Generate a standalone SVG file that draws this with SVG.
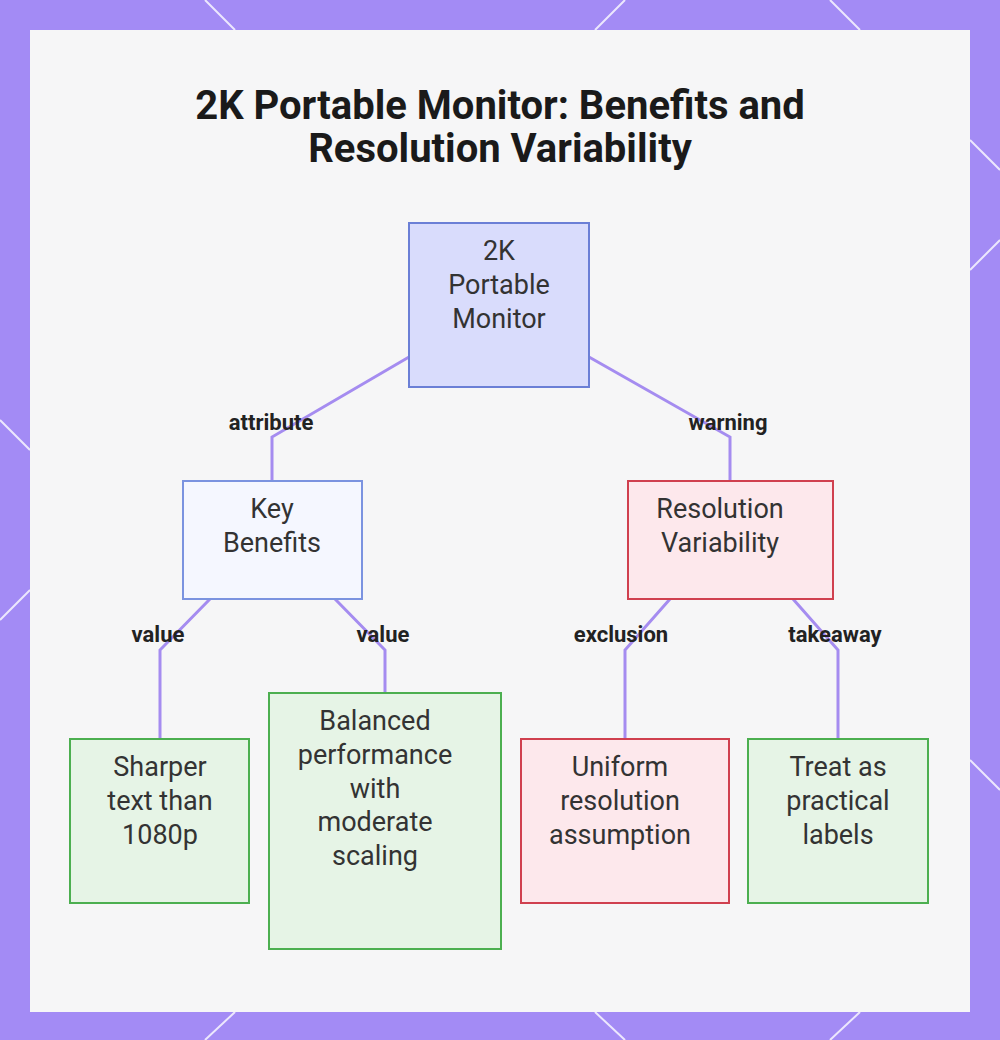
<svg xmlns="http://www.w3.org/2000/svg" width="1000" height="1040" viewBox="0 0 1000 1040">
<style>
.t{font-family:Roboto,"Liberation Sans",sans-serif;font-size:27px;fill:#333;text-anchor:middle}
.l{font-family:Roboto,"Liberation Sans",sans-serif;font-size:22px;font-weight:bold;fill:#222;text-anchor:middle}
.h{font-family:Roboto,"Liberation Sans",sans-serif;font-size:40px;font-weight:bold;fill:#1a1a1a;text-anchor:middle}
.e{fill:none;stroke:#a58cf0;stroke-width:3}
.dl{stroke:#ffffff;stroke-width:2;opacity:0.8}
</style>
<rect width="1000" height="1040" fill="#a38bf5"/>
<g class="dl"><line x1="205" y1="0" x2="235" y2="30"/><line x1="595" y1="30" x2="625" y2="0"/><line x1="830" y1="0" x2="860" y2="30"/><line x1="970" y1="140" x2="1000" y2="170"/><line x1="970" y1="270" x2="1000" y2="240"/><line x1="0" y1="420" x2="30" y2="450"/><line x1="0" y1="620" x2="30" y2="590"/><line x1="970" y1="760" x2="1000" y2="790"/><line x1="205" y1="1040" x2="235" y2="1012"/><line x1="595" y1="1012" x2="625" y2="1040"/><line x1="830" y1="1040" x2="860" y2="1012"/></g>
<rect x="30" y="30" width="940" height="982" fill="#f6f6f7"/>
<text class="h" x="500" y="119">2K Portable Monitor: Benefits and</text>
<text class="h" x="500" y="162">Resolution Variability</text>
<g id="connectors">
<polyline class="e" points="409,357 272,437 272,481"/>
<polyline class="e" points="589,357 730,437 730,481"/>
<polyline class="e" points="210,599 160,650 160,739"/>
<polyline class="e" points="335,599 385,650 385,693"/>
<polyline class="e" points="670,599 625,650 625,739"/>
<polyline class="e" points="793,599 838,650 838,739"/>
<text class="l" x="271" y="430">attribute</text>
<text class="l" x="728" y="430">warning</text>
<text class="l" x="158" y="642">value</text>
<text class="l" x="383" y="642">value</text>
<text class="l" x="621" y="642">exclusion</text>
<text class="l" x="835" y="642">takeaway</text>
</g>
<g id="root"><rect x="409" y="223" width="180" height="164" fill="#d9dcfc" stroke="#6b7fd6" stroke-width="2"/>
<text class="t" x="499" y="260">2K</text><text class="t" x="499" y="294">Portable</text><text class="t" x="499" y="328">Monitor</text></g>
<g id="benefits"><rect x="183" y="481" width="179" height="118" fill="#f5f7ff" stroke="#7b93e0" stroke-width="2"/>
<text class="t" x="272" y="518">Key</text><text class="t" x="272" y="552">Benefits</text></g>
<g id="variability"><rect x="628" y="481" width="205" height="118" fill="#fde8ec" stroke="#d0404f" stroke-width="2"/>
<text class="t" x="720" y="518">Resolution</text><text class="t" x="720" y="552">Variability</text></g>
<g id="sharper"><rect x="70" y="739" width="179" height="164" fill="#e6f4e6" stroke="#4caf50" stroke-width="2"/>
<text class="t" x="160" y="776">Sharper</text><text class="t" x="160" y="810">text than</text><text class="t" x="160" y="844">1080p</text></g>
<g id="balanced"><rect x="269" y="693" width="232" height="256" fill="#e6f4e6" stroke="#4caf50" stroke-width="2"/>
<text class="t" x="375" y="730">Balanced</text><text class="t" x="375" y="764">performance</text><text class="t" x="375" y="798">with</text><text class="t" x="375" y="831">moderate</text><text class="t" x="375" y="865">scaling</text></g>
<g id="uniform"><rect x="521" y="739" width="208" height="164" fill="#fde8ec" stroke="#d0404f" stroke-width="2"/>
<text class="t" x="620" y="776">Uniform</text><text class="t" x="620" y="810">resolution</text><text class="t" x="620" y="844">assumption</text></g>
<g id="treat"><rect x="748" y="739" width="180" height="164" fill="#e6f4e6" stroke="#4caf50" stroke-width="2"/>
<text class="t" x="838" y="776">Treat as</text><text class="t" x="838" y="810">practical</text><text class="t" x="838" y="844">labels</text></g>
</svg>
